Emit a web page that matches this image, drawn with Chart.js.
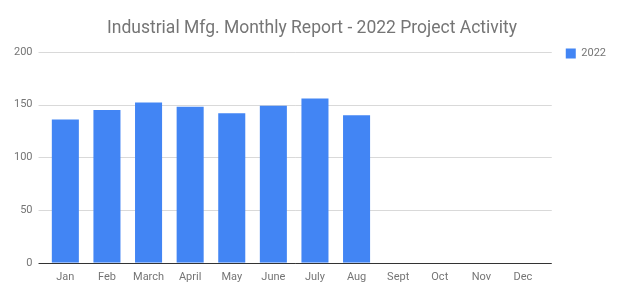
<!DOCTYPE html>
<html>
<head>
<meta charset="utf-8">
<script src="https://cdn.jsdelivr.net/npm/chart.js@4"></script>
<style>
  html, body { margin: 0; padding: 0; background: #fff; }
  #wrap { width: 624px; height: 296px; }
</style>
</head>
<body>
<div id="wrap"><canvas id="myChart" width="624" height="296"></canvas></div>
<script>
// Chart data
const months = ["Jan", "Feb", "March", "April", "May", "June", "July", "Aug", "Sept", "Oct", "Nov", "Dec"];
const projects2022 = [136, 145, 152, 148, 142, 149, 156, 140, null, null, null, null];
const yTicks = [0, 50, 100, 150, 200];
const seriesLabel = "2022";
const chartTitle = "Industrial Mfg. Monthly Report - 2022 Project Activity";

const textGray = "#757575";

// Horizontal grid lines a little wider than the category band, like the original
const gridPlugin = {
  id: 'wideGrid',
  beforeDatasetsDraw(chart) {
    const c = chart.ctx;
    const area = chart.chartArea;
    const yScale = chart.scales.y;
    c.save();
    yTicks.forEach(v => {
      const y = Math.round(yScale.getPixelForValue(v)) + 0.5;
      c.strokeStyle = v === 0 ? "#333333" : "#d9d9d9";
      c.lineWidth = 1;
      c.beginPath();
      c.moveTo(area.left - 6, y);
      c.lineTo(area.right + 8, y);
      c.stroke();
    });
    c.restore();
  }
};

const ctx = document.getElementById('myChart');
const myChart = new Chart(ctx, {
  type: 'bar',
  data: {
    labels: months,
    datasets: [{
      label: seriesLabel,
      data: projects2022,
      backgroundColor: '#4285f4',
      borderWidth: 0,
      categoryPercentage: 1,
      barPercentage: 0.65
    }]
  },
  options: {
    responsive: false,
    animation: false,
    layout: { padding: { left: 8, right: 8, top: 26, bottom: 4 } },
    scales: {
      x: {
        grid: { display: false, drawTicks: false },
        border: { display: false },
        ticks: { color: textGray, font: { family: 'Roboto', size: 11 }, padding: 8, maxRotation: 0 }
      },
      y: {
        min: 0,
        max: 200,
        afterBuildTicks: axis => { axis.ticks = yTicks.map(v => ({ value: v })); },
        grid: { display: false, drawTicks: true, tickLength: 6 },
        border: { display: false },
        ticks: { color: textGray, font: { family: 'Roboto', size: 11 }, padding: 6 }
      }
    },
    plugins: {
      title: {
        display: true,
        text: chartTitle,
        color: textGray,
        font: { family: 'Roboto', size: 17.5, weight: 'normal' },
        padding: { top: -8, bottom: 13 }
      },
      legend: {
        position: 'right',
        align: 'start',
        labels: {
          boxWidth: 10,
          boxHeight: 10,
          color: textGray,
          font: { family: 'Roboto', size: 11 },
          padding: 22
        }
      },
      tooltip: { enabled: false }
    }
  },
  plugins: [gridPlugin]
});
</script>
</body>
</html>
